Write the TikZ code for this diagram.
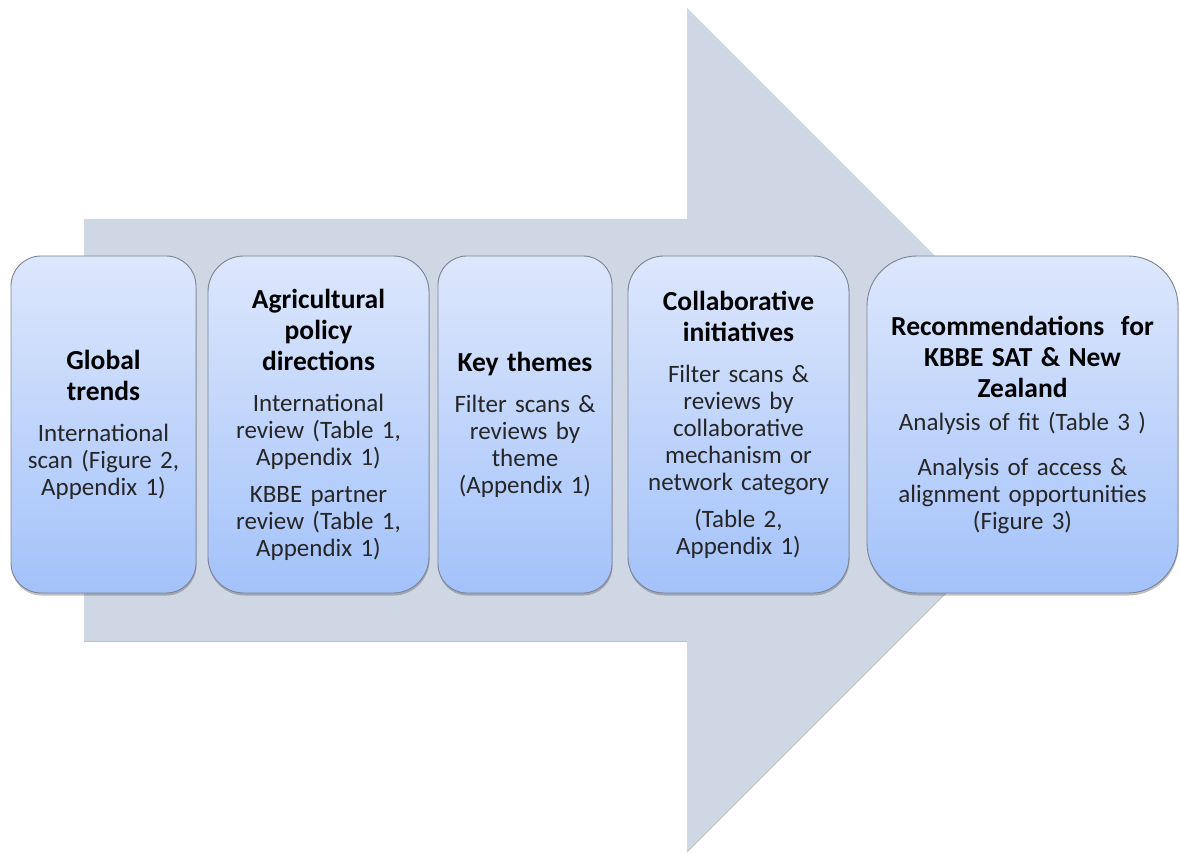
\documentclass[tikz,border=0pt]{standalone}
\usepackage{fontspec}
\setmainfont{Carlito}
\usetikzlibrary{shadows}

\definecolor{arrowgray}{HTML}{CFD7E5}
\definecolor{boxtop}{HTML}{DDE7FC}
\definecolor{boxbot}{HTML}{A3C2FA}
\definecolor{boxline}{HTML}{7C8494}
\newcommand{\hdfont}{\bfseries\fontsize{27.5}{31}\selectfont}
\newcommand{\bdfont}{\fontsize{25}{27}\selectfont}

\begin{document}
\begin{tikzpicture}[x=1pt,y=1pt,
        stage/.style={draw=boxline,line width=0.9pt,top color=boxtop,bottom color=boxbot,
            minimum height=337pt,inner sep=0pt,outer sep=0pt,align=center,
            font=\bdfont,text=black!85,
            drop shadow={shadow xshift=0.5pt,shadow yshift=-2.5pt,opacity=.35,fill=black!70}},
        hd/.style={font=\hdfont}]
        \useasboundingbox (0,0) rectangle (1180,852);
        % big arrow behind the stages
        \fill[arrowgray] (84,633) -- (687,633) -- (687,844) -- (1109,422) -- (687,0) -- (687,211) -- (84,211) -- cycle;
        \draw[black!25,line width=0.8pt] (687,211) -- (84,211);
        \draw[black!25,line width=0.8pt] (687,0) -- (1109,422);

        \node[stage,minimum width=185pt,text width=179pt,rounded corners=30pt] (trends) at (103.5,427.5)
            {{\hdfont\textcolor{black}{Global\\trends}\par}\vspace{14pt}
             International\\scan (Figure 2,\\Appendix 1)};
        \node[stage,minimum width=221pt,text width=215pt,rounded corners=36pt] (policy) at (318.5,427.5)
            {{\hdfont\textcolor{black}{Agricultural\\policy\\directions}\par}\vspace{14pt}
             International\\review (Table 1,\\Appendix 1)\par\vspace{10pt}
             KBBE partner\\review (Table 1,\\Appendix 1)};
        \node[stage,minimum width=174pt,text width=170pt,rounded corners=29pt] (themes) at (525,427.5)
            {{\hdfont\textcolor{black}{Key themes}\par}\vspace{14pt}
             Filter scans \&\\reviews by\\theme\\(Appendix 1)};
        \node[stage,minimum width=221pt,text width=215pt,rounded corners=36pt] (collab) at (738.5,427.5)
            {{\hdfont\textcolor{black}{Collaborative\\initiatives}\par}\vspace{14pt}
             Filter scans \&\\reviews by\\collaborative\\mechanism or\\network category\par\vspace{10pt}
             (Table 2,\\Appendix 1)};
        \node[stage,minimum width=311pt,text width=305pt,rounded corners=50pt] (recs) at (1022.5,427.5)
            {{\hdfont\textcolor{black}{Recommendations\ \ for\\KBBE SAT \& New\\Zealand}\par}\vspace{6pt}
             Analysis of fit (Table 3 )\par\vspace{18pt}
             Analysis of access \&\\alignment opportunities\\(Figure 3)};
    \end{tikzpicture}
\end{document}
